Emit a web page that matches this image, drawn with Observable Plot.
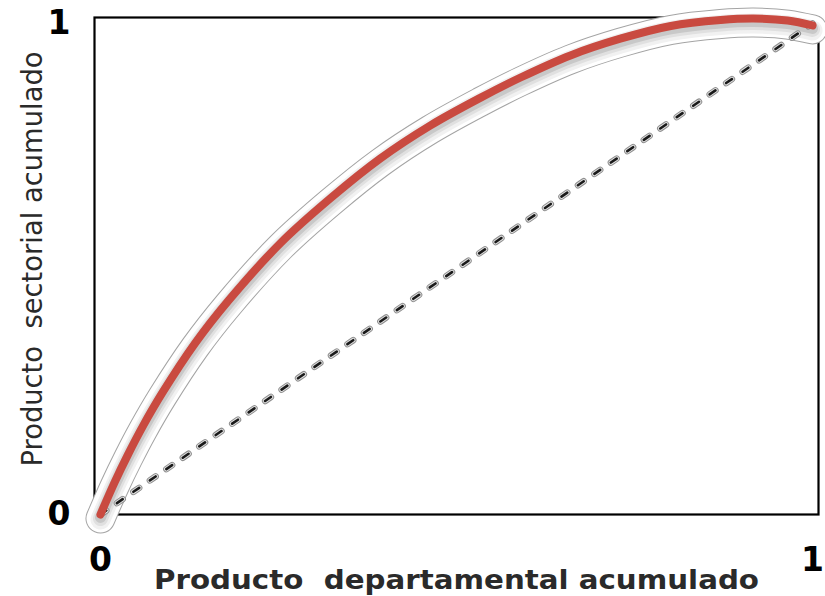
<!DOCTYPE html>
<html>
<head>
<meta charset="utf-8">
<script src="https://cdn.jsdelivr.net/npm/d3@7"></script>
<script src="https://cdn.jsdelivr.net/npm/@observablehq/plot@0.6"></script>
<style>
  body { margin: 0; background: white; }
  svg text { white-space: pre; }
</style>
</head>
<body>
<div id="chart"></div>
<script>
// Curve: cumulative departmental product (x) vs cumulative sector product (y)
const curveX = [0, 0.020, 0.039, 0.060, 0.087, 0.133, 0.180, 0.253, 0.323, 0.393, 0.463, 0.534, 0.590, 0.660, 0.730, 0.801, 0.871, 0.917, 0.965, 1.0];
const curveY = [0, 0.066, 0.123, 0.181, 0.248, 0.349, 0.436, 0.553, 0.644, 0.725, 0.792, 0.849, 0.890, 0.935, 0.969, 0.995, 1.007, 1.010, 1.006, 0.996];
// Equality diagonal
const diagX = [0, 1];
const diagY = [0, 1];
const tickValues = [0, 1];
const xLabel = "Producto  departamental acumulado";
const yLabel = "Producto  sectorial acumulado";

const curve = curveX.map((x, i) => ({x, y: curveY[i]}));
const diag = diagX.map((x, i) => ({x, y: diagY[i]}));
const cv = "catmull-rom";

const chart = Plot.plot({
  width: 825,
  height: 596,
  marginLeft: 94,
  marginRight: 7,
  marginTop: 17,
  marginBottom: 82,
  style: {background: "white", fontFamily: "DejaVu Sans", overflow: "visible"},
  x: {domain: [-0.0084, 1.0084]},
  y: {domain: [0, 1.0122]},
  marks: [
    Plot.frame({stroke: "black", strokeWidth: 2.2}),
    // halo around the curve
    Plot.line(curve, {x: "x", y: "y", curve: cv, stroke: "#a4a4a4", strokeWidth: 30, dy: 4}),
    Plot.line(curve, {x: "x", y: "y", curve: cv, stroke: "white", strokeWidth: 28, dy: 4}),
    Plot.line(curve, {x: "x", y: "y", curve: cv, stroke: "#f1f1f1", strokeWidth: 20, dy: 5}),
    Plot.line(curve, {x: "x", y: "y", curve: cv, stroke: "#e0e0e0", strokeWidth: 15, dy: 4}),
    Plot.line(curve, {x: "x", y: "y", curve: cv, stroke: "#c8c8c8", strokeWidth: 11, dy: 3}),
    // dashed diagonal
    Plot.line(diag, {x: "x", y: "y", stroke: "#8f8f8f", strokeWidth: 6.5, strokeDasharray: "7,13", strokeLinecap: "round"}),
    Plot.line(diag, {x: "x", y: "y", stroke: "#e2e2e2", strokeWidth: 4.5, strokeDasharray: "7,13", strokeLinecap: "round"}),
    Plot.line(diag, {x: "x", y: "y", stroke: "#1a1a1a", strokeWidth: 2.6, strokeDasharray: "7,13", strokeLinecap: "round"}),
    // the red curve
    Plot.line(curve, {x: "x", y: "y", curve: cv, stroke: "#c94a40", strokeWidth: 8}),
    Plot.axisX({ticks: tickValues, tickSize: 0, tickPadding: 33, tickFormat: d => String(d), fontSize: 33, fontWeight: "bold", fill: "black", label: null}),
    Plot.axisY({ticks: tickValues, tickSize: 0, tickPadding: 24, tickFormat: d => String(d), fontSize: 33, fontWeight: "bold", fill: "black", label: null}),
    Plot.text([xLabel], {frameAnchor: "bottom", dy: 66, text: d => d, textAnchor: "middle", lineAnchor: "middle", fontSize: 27, fontWeight: "bold", fill: "#2a2a2a", className: "xlab"}),
    Plot.text([yLabel], {frameAnchor: "left", dx: -61, dy: -7, rotate: -90, text: d => d, textAnchor: "middle", lineAnchor: "middle", fontSize: 28, fill: "#2a2a2a", className: "ylab"})
  ]
});
document.getElementById("chart").appendChild(chart);
// fit label lengths to the reference
const fit = (cls, len) => {
  chart.querySelectorAll(`.${cls} text`).forEach(t => {
    t.setAttribute("textLength", len);
    t.setAttribute("lengthAdjust", "spacingAndGlyphs");
  });
};
fit("xlab", 605);
fit("ylab", 415);
</script>
</body>
</html>
